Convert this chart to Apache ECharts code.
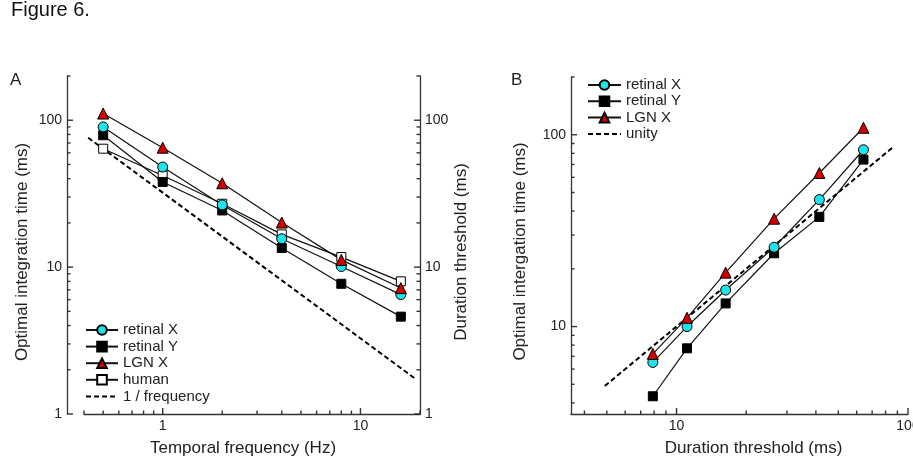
<!DOCTYPE html>
<html>
<head>
<meta charset="utf-8">
<script src="https://cdn.jsdelivr.net/npm/echarts@6/dist/echarts.min.js"></script>
<style>
  html, body { margin: 0; padding: 0; background: #fff; }
  #chart { width: 913px; height: 464px; }
</style>
</head>
<body>
<div id="chart"></div>
<script>
// panel A: temporal frequency vs optimal integration time
const freqHz = [0.5, 1, 2, 4, 8, 16]
const retinalXA = [90, 48, 26.5, 15.6, 10.1, 6.5]
const retinalYA = [79, 38, 24.3, 13.5, 7.7, 4.6]
const lgnXA = [111, 65, 37.2, 20.1, 11.2, 7.2]
const humanA = [64, 42, 27, 16.7, 11.7, 8.0]
const invFreqX = [0.42, 18.8]
const invFreqY = [76, 1.75]

// panel B: duration threshold vs optimal integration time
const durationMs = [7.9, 11.1, 16.3, 26.4, 41.4, 64.2]
const retinalXB = [6.5, 10, 15.5, 25.9, 45.9, 83.5]
const retinalYB = [4.33, 7.7, 13.2, 24.1, 37.3, 74.2]
const lgnXB = [7.2, 11.1, 19.1, 36.5, 63.2, 108.7]
const unityX = [4.9, 86]
const unityY = [4.9, 86]

// axis ranges
const aXRange = [0.4, 20]
const aYRange = [1, 200]
const bXRange = [3.5, 100]
const bYRange = [3.5, 200]

// tick labels / tick positions
const aXMajor = [1, 10]
const aXMinor = [0.4, 0.5, 0.6, 0.7, 0.8, 0.9, 2, 3, 4, 5, 6, 7, 8, 9, 20]
const aYMajor = [1, 10, 100]
const aYMinor = [2, 3, 4, 5, 6, 7, 8, 9, 20, 30, 40, 50, 60, 70, 80, 90, 200]
const bXMajor = [10, 100]
const bXMinor = [4, 5, 6, 7, 8, 9, 20, 30, 40, 50, 60, 70, 80, 90]
const bYMajor = [10, 100]
const bYMinor = [4, 5, 6, 7, 8, 9, 20, 30, 40, 50, 60, 70, 80, 90, 200]

const FONT = 'Liberation Sans, Arial, sans-serif'
const AXIS_COLOR = '#333'
const TEXT_COLOR = '#222'
const CYAN = '#1fe3ea'
const RED = '#d20000'
const A_LEFT_OFFSET = 17
const MAJOR_LEN = 6
const MINOR_LEN = 3.5

function pairs(xs, ys) {
  return xs.map((x, i) => [x, ys[i]])
}

function logAxis(o) {
  return Object.assign({
    type: 'log',
    logBase: 10,
    axisLine: {show: true, onZero: false, lineStyle: {color: AXIS_COLOR, width: 1.3}},
    axisTick: {show: false},
    axisLabel: {show: true, customValues: o.labels, margin: 5, fontSize: 14,
      fontFamily: FONT, color: TEXT_COLOR},
    splitLine: {show: false},
    nameLocation: 'middle',
    nameTextStyle: {fontSize: 17, fontFamily: FONT, color: TEXT_COLOR}
  }, o.extra)
}

// tick marks (inside, log spaced), placed through the axes' own scales
function tickSeries(xi, yi, points, dir, len, shift) {
  return {
    type: 'custom',
    xAxisIndex: xi,
    yAxisIndex: yi,
    data: points,
    clip: false,
    z: 5,
    renderItem: function (params, api) {
      const p = api.coord([api.value(0), api.value(1)])
      let x1 = p[0], y1 = p[1], x2 = p[0], y2 = p[1]
      if (dir === 'up') {
        y2 = y1 - len
      } else if (dir === 'right') {
        x1 = x1 - shift
        x2 = x1 + len
      } else {
        x2 = x1 - len
      }
      return {
        type: 'line',
        shape: {x1: x1, y1: y1, x2: x2, y2: y2},
        style: {stroke: AXIS_COLOR, lineWidth: 1.4}
      }
    }
  }
}

function lineSeries(name, data, xi, yi, symbol, size, color) {
  return {
    name: name,
    type: 'line',
    xAxisIndex: xi,
    yAxisIndex: yi,
    data: data,
    symbol: symbol,
    symbolSize: size,
    showSymbol: true,
    z: 3,
    lineStyle: {color: '#111', width: 1.2},
    itemStyle: {color: color, borderColor: '#000', borderWidth: 1},
    emphasis: {disabled: true}
  }
}

function dashSeries(name, data, xi, yi) {
  return {
    name: name,
    type: 'line',
    xAxisIndex: xi,
    yAxisIndex: yi,
    data: data,
    symbol: 'none',
    z: 2,
    lineStyle: {color: '#000', width: 2, type: [5, 3]},
    itemStyle: {color: 'rgba(0,0,0,0)', borderWidth: 0},
    emphasis: {disabled: true}
  }
}

const chart = echarts.init(document.getElementById('chart'), null, {renderer: 'canvas'})

const legendText = {fontSize: 15, lineHeight: 16, fontFamily: FONT, color: TEXT_COLOR}

const option = {
  backgroundColor: '#fff',
  animation: false,
  title: [
    {text: 'Figure 6.', left: 11, top: 0, padding: 0,
      textStyle: {fontSize: 20, fontWeight: 'normal', fontFamily: FONT, color: '#111'}},
    {text: 'A', left: 10, top: 72, padding: 0,
      textStyle: {fontSize: 17, fontWeight: 'normal', fontFamily: FONT, color: '#222'}},
    {text: 'B', left: 511, top: 72, padding: 0,
      textStyle: {fontSize: 17, fontWeight: 'normal', fontFamily: FONT, color: '#222'}}
  ],
  grid: [
    {left: 84, top: 76, width: 336, height: 338, outerBoundsMode: 'none'},
    {left: 571, top: 77, width: 337, height: 337, outerBoundsMode: 'none'}
  ],
  legend: [
    {
      orient: 'vertical', left: 85, top: 322, padding: 0,
      itemWidth: 32, itemHeight: 12, itemGap: 0.6,
      textStyle: legendText,
      data: ['retinal X', 'retinal Y', 'LGN X', 'human', '1 / frequency']
    },
    {
      orient: 'vertical', left: 587, top: 77, padding: 0,
      itemWidth: 33, itemHeight: 12, itemGap: 0.3,
      textStyle: legendText,
      data: ['retinal X ', 'retinal Y ', 'LGN X ', 'unity']
    }
  ],
  xAxis: [
    logAxis({labels: aXMajor, extra: {gridIndex: 0, min: aXRange[0], max: aXRange[1], position: 'bottom',
      name: 'Temporal frequency (Hz)', nameGap: 26,
      nameTextStyle: {fontSize: 17, fontFamily: FONT, color: TEXT_COLOR, padding: [0, 18, 0, 0]}}}),
    logAxis({labels: bXMajor, extra: {gridIndex: 1, min: bXRange[0], max: bXRange[1], position: 'bottom',
      name: 'Duration threshold (ms)', nameGap: 26,
      nameTextStyle: {fontSize: 17, fontFamily: FONT, color: TEXT_COLOR, padding: [0, 0, 0, 28]}}})
  ],
  yAxis: [
    logAxis({labels: aYMajor, extra: {gridIndex: 0, min: aYRange[0], max: aYRange[1], position: 'left',
      offset: A_LEFT_OFFSET, name: 'Optimal integration time (ms)', nameGap: 36, nameRotate: 90,
      nameTextStyle: {fontSize: 17, fontFamily: FONT, color: TEXT_COLOR, padding: [0, 14, 0, 0]}}}),
    logAxis({labels: aYMajor, extra: {gridIndex: 0, min: aYRange[0], max: aYRange[1], position: 'right',
      offset: 0, name: 'Duration threshold (ms)', nameGap: 33, nameRotate: 90,
      nameTextStyle: {fontSize: 17, fontFamily: FONT, color: TEXT_COLOR, padding: [0, 14, 0, 0]}}}),
    logAxis({labels: bYMajor, extra: {gridIndex: 1, min: bYRange[0], max: bYRange[1], position: 'left',
      name: 'Optimal intergation time (ms)', nameGap: 42, nameRotate: 90,
      nameTextStyle: {fontSize: 17, fontFamily: FONT, color: TEXT_COLOR, padding: [0, 12, 0, 0]}}})
  ],
  series: [
    dashSeries('1 / frequency', pairs(invFreqX, invFreqY), 0, 0),
    lineSeries('human', pairs(freqHz, humanA), 0, 0, 'rect', 9, '#fff'),
    lineSeries('retinal Y', pairs(freqHz, retinalYA), 0, 0, 'rect', 9, '#000'),
    lineSeries('retinal X', pairs(freqHz, retinalXA), 0, 0, 'circle', 10, CYAN),
    lineSeries('LGN X', pairs(freqHz, lgnXA), 0, 0, 'triangle', 11, RED),

    dashSeries('unity', pairs(unityX, unityY), 1, 2),
    lineSeries('retinal Y ', pairs(durationMs, retinalYB), 1, 2, 'rect', 9, '#000'),
    lineSeries('retinal X ', pairs(durationMs, retinalXB), 1, 2, 'circle', 10, CYAN),
    lineSeries('LGN X ', pairs(durationMs, lgnXB), 1, 2, 'triangle', 11, RED),

    // panel A ticks
    tickSeries(0, 0, aXMajor.map(v => [v, aYRange[0]]), 'up', MAJOR_LEN),
    tickSeries(0, 0, aXMinor.map(v => [v, aYRange[0]]), 'up', MINOR_LEN),
    tickSeries(0, 0, aYMajor.map(v => [aXRange[0], v]), 'right', MAJOR_LEN, A_LEFT_OFFSET),
    tickSeries(0, 0, aYMinor.map(v => [aXRange[0], v]), 'right', MINOR_LEN, A_LEFT_OFFSET),
    tickSeries(0, 0, aYMajor.map(v => [aXRange[1], v]), 'left', MAJOR_LEN),
    tickSeries(0, 0, aYMinor.map(v => [aXRange[1], v]), 'left', MINOR_LEN),
    // panel B ticks
    tickSeries(1, 2, bXMajor.map(v => [v, bYRange[0]]), 'up', MAJOR_LEN),
    tickSeries(1, 2, bXMinor.map(v => [v, bYRange[0]]), 'up', MINOR_LEN),
    tickSeries(1, 2, bYMajor.map(v => [bXRange[0], v]), 'right', MAJOR_LEN, 0),
    tickSeries(1, 2, bYMinor.map(v => [bXRange[0], v]), 'right', MINOR_LEN, 0)
  ]
}

chart.setOption(option)
</script>
</body>
</html>
